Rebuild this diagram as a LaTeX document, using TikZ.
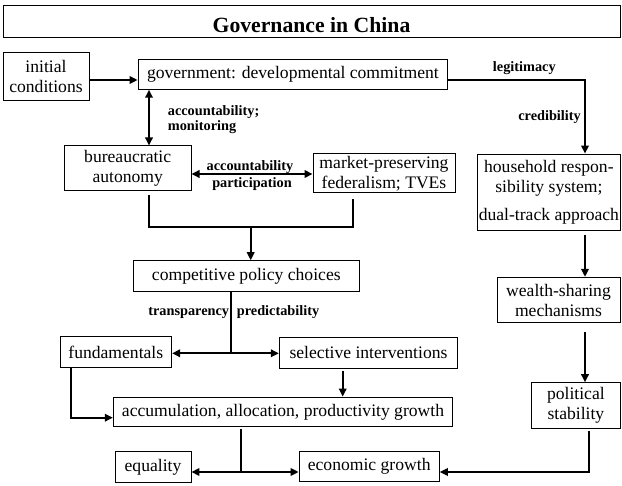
\documentclass[tikz,border=0pt]{standalone}
\usepackage{fontspec}
\setmainfont{Liberation Serif}
\usetikzlibrary{arrows.meta}

\begin{document}
\begin{tikzpicture}[x=1pt, y=-1pt,
    box/.style={draw, line width=0.9pt, inner sep=0pt, align=center, font=\fontsize{17.6}{20}\selectfont},
    lab/.style={inner sep=0pt, font=\bfseries\fontsize{14.3}{15.6}\selectfont},
    link/.style={line width=1.8pt},
    arr/.style={link, -{Triangle[length=8pt, width=7.5pt]}},
    both/.style={link, {Triangle[length=8pt, width=7.5pt]}-{Triangle[length=8pt, width=7.5pt]}}]
  \useasboundingbox (0,0) rectangle (622,486);

  % boxes
  \node[box, minimum width=617pt, minimum height=32pt, text height=22.6pt, text depth=0pt,
    font=\bfseries\fontsize{21.7}{24}\selectfont] (title) at (311.5,21) {Governance in China};
  \node[box, minimum width=86pt, minimum height=48pt] (init) at (46,76.7) {initial\\conditions};
  \node[box, minimum width=309.7pt, minimum height=30pt] (gov) at (292.9,74.3) {government: developmental commitment};
  \node[box, minimum width=126.7pt, minimum height=44.7pt] (bur) at (127.7,168.3) {bureaucratic\\autonomy};
  \node[box, minimum width=142pt, minimum height=38.7pt] (fed) at (384,173.3) {market-preserving\\federalism; TVEs};
  \node[box, minimum width=142.3pt, minimum height=76pt] (house) at (548.9,192) {household respon-\\sibility system;\\[8pt]dual-track approach};
  \node[box, minimum width=226pt, minimum height=31pt] (comp) at (246.3,276.2) {competitive policy choices};
  \node[box, minimum width=123pt, minimum height=45.4pt] (wealth) at (558.5,300) {wealth-sharing\\mechanisms};
  \node[box, minimum width=111.7pt, minimum height=31pt] (fund) at (115.8,352.2) {fundamentals};
  \node[box, minimum width=178.4pt, minimum height=31pt] (sel) at (368.5,352.8) {selective interventions};
  \node[box, minimum width=339.4pt, minimum height=29.7pt] (accum) at (283,411.9) {accumulation, allocation, productivity growth};
  \node[box, minimum width=88.3pt, minimum height=45.6pt] (stab) at (575.9,405.5) {political\\stability};
  \node[box, minimum width=76pt, minimum height=31pt] (eq) at (153,467) {equality};
  \node[box, minimum width=140.3pt, minimum height=30pt] (growth) at (369.2,466) {economic growth};

  % labels
  \node[lab, anchor=west, align=left] (accmon) at (167.7,119.5) {accountability;\\monitoring};
  \node[lab] (legit) at (524.3,68.3) {legitimacy};
  \node[lab, anchor=east] (cred) at (581,117.3) {credibility};
  \node[lab] (accnt) at (250,166.7) {accountability};
  \node[lab] (part) at (252,184) {participation};
  \node[lab, anchor=east] (transp) at (229.3,313) {transparency};
  \node[lab, anchor=west] (pred) at (236.7,312) {predictability};

  \coordinate (merge) at (250.7,227.3);
  \coordinate (split) at (231,353.3);
  \coordinate (join) at (241,472);

  % connectors
  \draw[arr] ([yshift=-3.3pt]init.east) -- ([yshift=-3.3pt]init.east -| gov.west);
  \draw[arr] ([yshift=-5.7pt]gov.east) -| ([xshift=36.1pt]house.north);
  \draw[both] ([xshift=21.3pt]bur.north) -- ([xshift=21.3pt]bur.north |- gov.south);
  \draw[both] ([yshift=-5.7pt]bur.east) -- ([yshift=-5.7pt]bur.east -| fed.west);
  \draw[link] ([xshift=21.3pt, yshift=-4pt]bur.south) |- (merge) -| ([xshift=-31.3pt, yshift=-6pt]fed.south);
  \draw[arr] (merge) -- (merge |- comp.north);
  \draw[link] ([xshift=-15.3pt]comp.south) -- (split);
  \draw[arr] (split) -- (split -| fund.east);
  \draw[arr] (split) -- (split -| sel.west);
  \draw[arr] ([xshift=-25.8pt, yshift=-2pt]sel.south) -- ([xshift=-25.8pt]sel.south |- accum.north);
  \draw[arr] ([xshift=-44.8pt]fund.south) |- ([yshift=-5.8pt]accum.west);
  \draw[link] ([xshift=-42pt, yshift=-2pt]accum.south) -- (join);
  \draw[arr] (join) -- (join -| eq.east);
  \draw[arr] (join) -- (join -| growth.west);
  \draw[arr] ([xshift=13.4pt, yshift=-2pt]stab.south) |- (join -| growth.east);
  \draw[arr] ([xshift=36.1pt, yshift=-5pt]house.south) -- ([xshift=36.1pt]house.south |- wealth.north);
  \draw[arr] ([xshift=26.5pt, yshift=-9pt]wealth.south) -- ([xshift=26.5pt]wealth.south |- stab.north);
\end{tikzpicture}
\end{document}
